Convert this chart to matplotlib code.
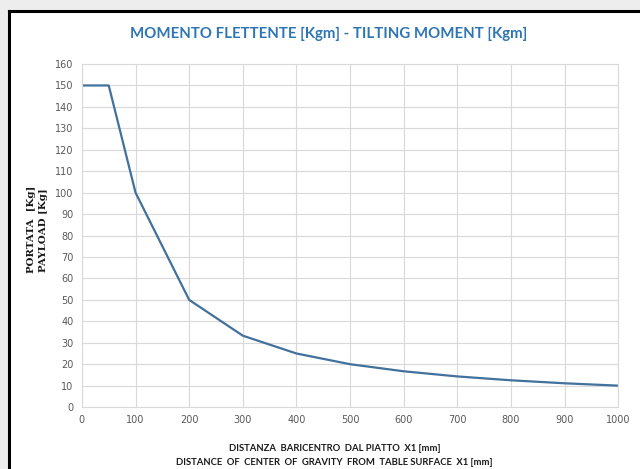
import matplotlib.pyplot as plt
from matplotlib.patches import Rectangle
from matplotlib.lines import Line2D

# distanza baricentro X1 [mm] -> portata [Kg]
distanza = [0, 50, 100, 200, 300, 400, 500, 600, 700, 800, 900, 1000]
portata = [150, 150, 100, 50, 33.3, 25, 20, 16.7, 14.3, 12.5, 11.1, 10]

x_ticks = list(range(0, 1001, 100))
y_ticks = list(range(0, 161, 10))

titolo = 'MOMENTO FLETTENTE [Kgm] - TILTING MOMENT [Kgm]'
label_x = 'DISTANZA  BARICENTRO  DAL PIATTO  X1 [mm]\nDISTANCE  OF  CENTER  OF  GRAVITY  FROM  TABLE SURFACE  X1 [mm]'
label_y = 'PORTATA  [Kg]\nPAYLOAD [Kg]'

fig = plt.figure(figsize=(6.4, 4.69), dpi=100)
fig.patch.set_facecolor('white')

# cornice dello screenshot
fig.patches.append(Rectangle((0, 0.978), 1, 0.022, transform=fig.transFigure,
                             facecolor='#EDEDED', edgecolor='none', zorder=0))
fig.patches.append(Rectangle((0, 0), 0.014, 1, transform=fig.transFigure,
                             facecolor='#EDEDED', edgecolor='none', zorder=0))
fig.lines.append(Line2D([0.014, 1], [0.976, 0.976], transform=fig.transFigure,
                        color='black', linewidth=2.2))
fig.lines.append(Line2D([0.014, 0.014], [0, 0.976], transform=fig.transFigure,
                        color='black', linewidth=2.2))

ax = fig.add_axes([0.128, 0.132, 0.838, 0.7315])
ax.plot(distanza, portata, color='#41719C', linewidth=1.6)

ax.set_xlim(0, 1000)
ax.set_ylim(0, 160)
ax.set_xticks(x_ticks)
ax.set_yticks(y_ticks)
ax.grid(True, color='#D9D9D9', linewidth=0.8)
ax.set_axisbelow(True)
ax.tick_params(length=0, labelsize=7, colors='#595959', pad=6)
for s in ax.spines.values():
    s.set_color('#D9D9D9')
    s.set_linewidth(0.8)

fig.text(0.513, 0.927, titolo, ha='center', va='center', fontsize=10.8,
         fontweight='bold', color='#2E75B6', family='Lato')
fig.text(0.523, 0.028, label_x, ha='center', va='center', fontsize=6.8,
         fontweight='bold', color='#1A1A1A', family='Lato', linespacing=1.75)
fig.text(0.059, 0.51, label_y, ha='center', va='center', rotation=90,
         fontsize=7.4, fontweight='bold', color='#1A1A1A', family='DejaVu Serif',
         linespacing=1.45)

fig.savefig('out.png', dpi=100)
